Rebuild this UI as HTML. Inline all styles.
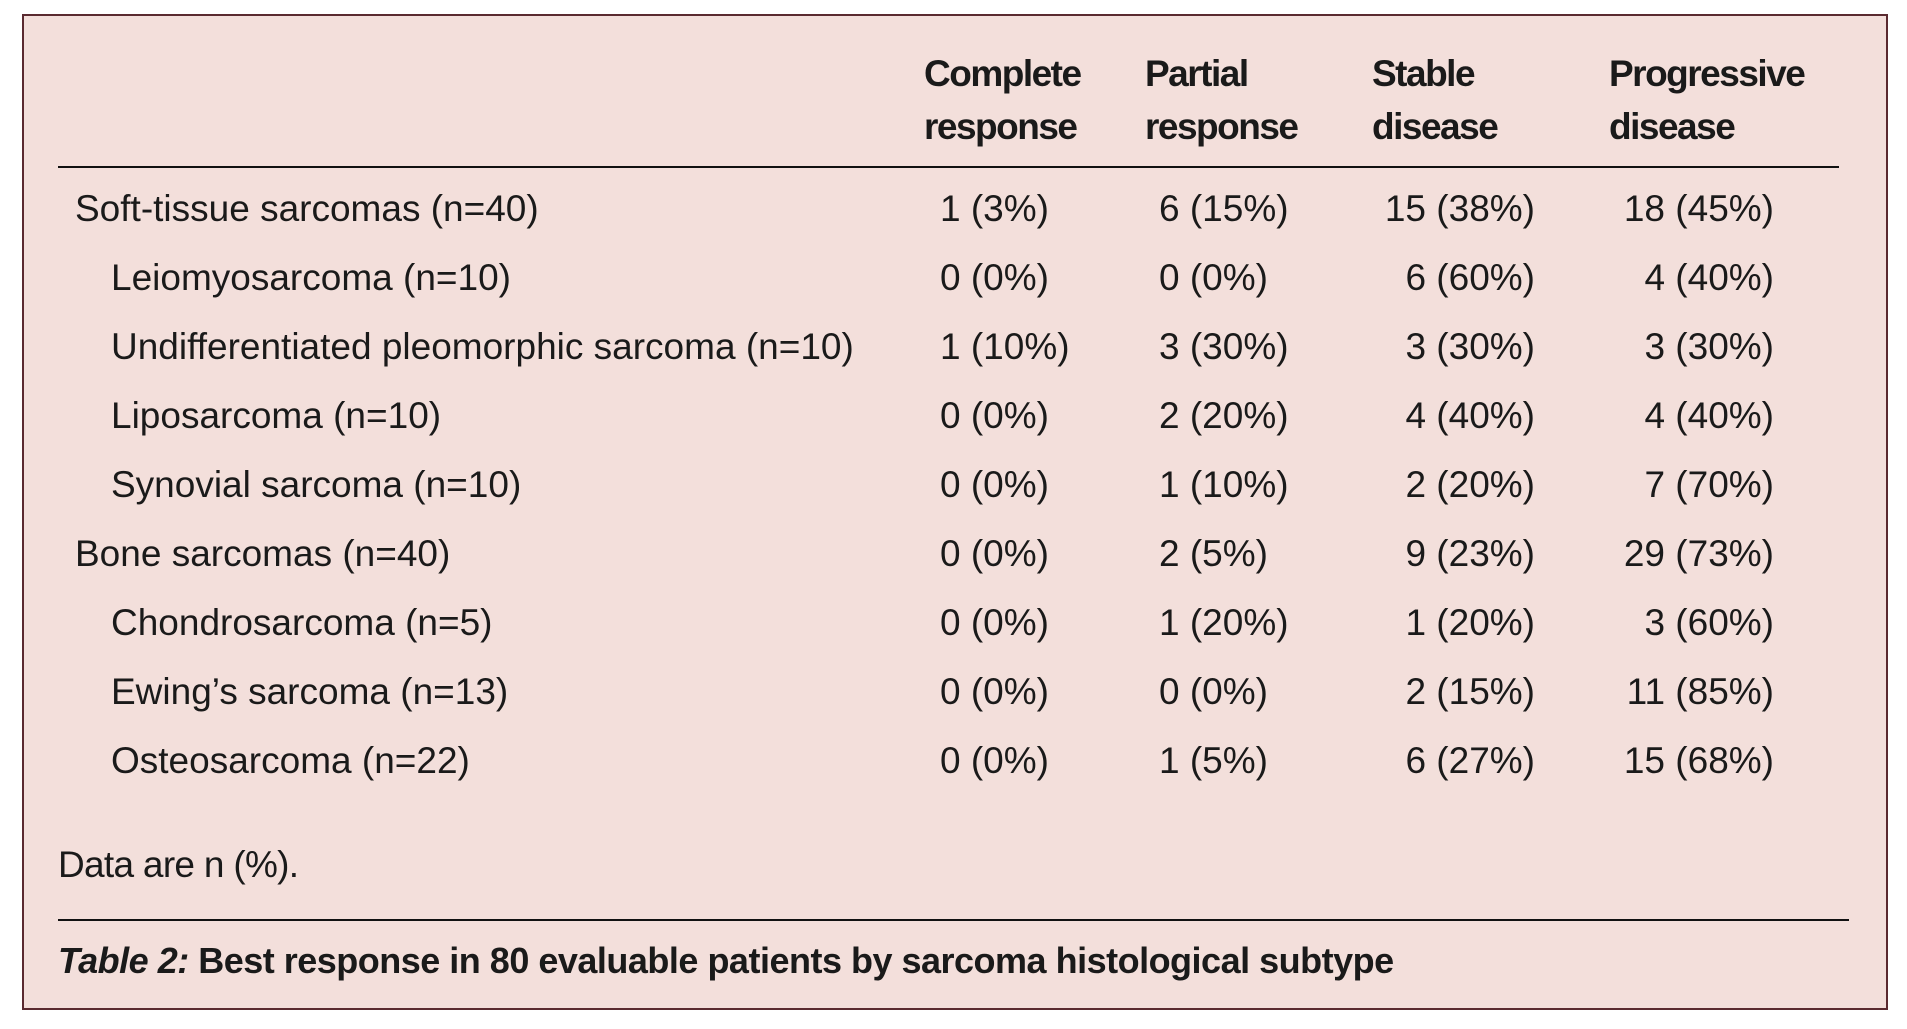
<!DOCTYPE html>
<html><head><meta charset="utf-8"><style>
html,body{margin:0;padding:0;background:#fff;}
body{width:1907px;height:1029px;position:relative;overflow:hidden;font-family:"Liberation Sans",sans-serif;color:#1a1a1a;}
.box{position:absolute;left:22px;top:14px;width:1862px;height:992px;border:2px solid #5a2a30;background:#f3dfdb;}
.t{position:absolute;font-size:37px;line-height:37px;white-space:nowrap;letter-spacing:0px;}
.h{font-weight:bold;letter-spacing:-1.5px;}
.r{text-align:right;}
.line{position:absolute;background:#111;height:2px;}
b{font-weight:bold;}
</style></head><body>
<div class="box"></div>
<div class="t h" style="left:924px;top:55px">Complete</div>
<div class="t h" style="left:924px;top:108px">response</div>
<div class="t h" style="left:1145px;top:55px">Partial</div>
<div class="t h" style="left:1145px;top:108px">response</div>
<div class="t h" style="left:1372px;top:55px">Stable</div>
<div class="t h" style="left:1372px;top:108px">disease</div>
<div class="t h" style="left:1609px;top:55px">Progressive</div>
<div class="t h" style="left:1609px;top:108px">disease</div>
<div class="line" style="left:58px;top:166px;width:1781px"></div>

<div class="t" style="left:75px;top:190px">Soft-tissue sarcomas (n=40)</div>
<div class="t" style="left:111px;top:259px">Leiomyosarcoma (n=10)</div>
<div class="t" style="left:111px;top:328px">Undifferentiated pleomorphic sarcoma (n=10)</div>
<div class="t" style="left:111px;top:397px">Liposarcoma (n=10)</div>
<div class="t" style="left:111px;top:466px">Synovial sarcoma (n=10)</div>
<div class="t" style="left:75px;top:535px">Bone sarcomas (n=40)</div>
<div class="t" style="left:111px;top:604px">Chondrosarcoma (n=5)</div>
<div class="t" style="left:111px;top:673px">Ewing’s sarcoma (n=13)</div>
<div class="t" style="left:111px;top:742px">Osteosarcoma (n=22)</div>

<div class="t" style="left:940px;top:190px">1 (3%)</div>
<div class="t" style="left:940px;top:259px">0 (0%)</div>
<div class="t" style="left:940px;top:328px">1 (10%)</div>
<div class="t" style="left:940px;top:397px">0 (0%)</div>
<div class="t" style="left:940px;top:466px">0 (0%)</div>
<div class="t" style="left:940px;top:535px">0 (0%)</div>
<div class="t" style="left:940px;top:604px">0 (0%)</div>
<div class="t" style="left:940px;top:673px">0 (0%)</div>
<div class="t" style="left:940px;top:742px">0 (0%)</div>

<div class="t" style="left:1159px;top:190px">6 (15%)</div>
<div class="t" style="left:1159px;top:259px">0 (0%)</div>
<div class="t" style="left:1159px;top:328px">3 (30%)</div>
<div class="t" style="left:1159px;top:397px">2 (20%)</div>
<div class="t" style="left:1159px;top:466px">1 (10%)</div>
<div class="t" style="left:1159px;top:535px">2 (5%)</div>
<div class="t" style="left:1159px;top:604px">1 (20%)</div>
<div class="t" style="left:1159px;top:673px">0 (0%)</div>
<div class="t" style="left:1159px;top:742px">1 (5%)</div>

<div class="t r" style="right:372px;top:190px">15 (38%)</div>
<div class="t r" style="right:372px;top:259px">6 (60%)</div>
<div class="t r" style="right:372px;top:328px">3 (30%)</div>
<div class="t r" style="right:372px;top:397px">4 (40%)</div>
<div class="t r" style="right:372px;top:466px">2 (20%)</div>
<div class="t r" style="right:372px;top:535px">9 (23%)</div>
<div class="t r" style="right:372px;top:604px">1 (20%)</div>
<div class="t r" style="right:372px;top:673px">2 (15%)</div>
<div class="t r" style="right:372px;top:742px">6 (27%)</div>

<div class="t r" style="right:133px;top:190px">18 (45%)</div>
<div class="t r" style="right:133px;top:259px">4 (40%)</div>
<div class="t r" style="right:133px;top:328px">3 (30%)</div>
<div class="t r" style="right:133px;top:397px">4 (40%)</div>
<div class="t r" style="right:133px;top:466px">7 (70%)</div>
<div class="t r" style="right:133px;top:535px">29 (73%)</div>
<div class="t r" style="right:133px;top:604px">3 (60%)</div>
<div class="t r" style="right:133px;top:673px">11 (85%)</div>
<div class="t r" style="right:133px;top:742px">15 (68%)</div>

<div class="t" style="left:58px;top:846px;letter-spacing:-0.7px">Data are n (%).</div>
<div class="line" style="left:58px;top:919px;width:1791px"></div>
<div class="t" style="left:58px;top:942px;font-size:36px;letter-spacing:-0.5px"><b><i>Table 2:</i> Best response in 80 evaluable patients by sarcoma histological subtype</b></div>
</body></html>
